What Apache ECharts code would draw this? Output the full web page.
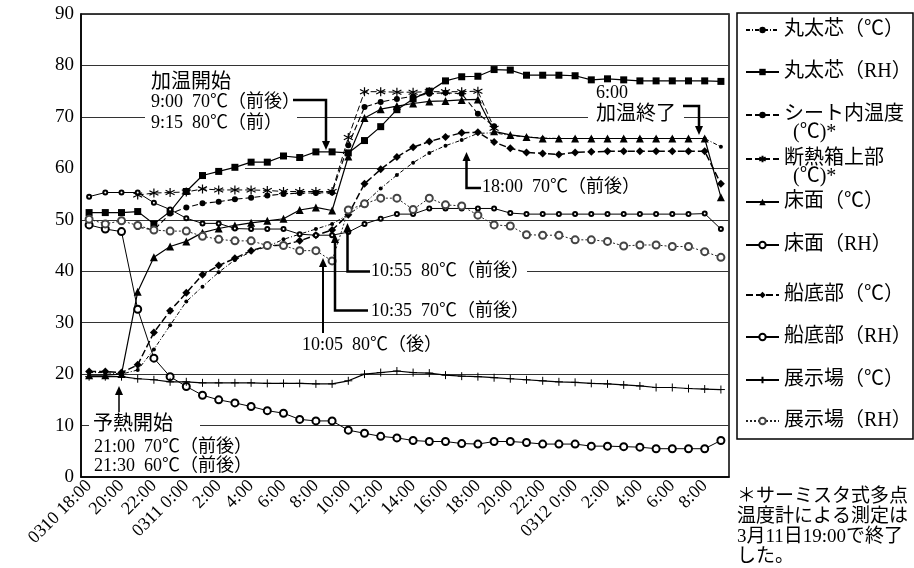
<!DOCTYPE html>
<html><head><meta charset="utf-8">
<script src="https://cdn.jsdelivr.net/npm/echarts@6/dist/echarts.min.js"></script>
<style>html,body{margin:0;padding:0;background:#fff}#c{width:914px;height:568px}</style>
</head><body><div id="c"></div>
<script>
const categories = ['0310 18:00','0310 19:00','0310 20:00','0310 21:00','0310 22:00','0310 23:00',
'0311 0:00','0311 1:00','0311 2:00','0311 3:00','0311 4:00','0311 5:00','0311 6:00','0311 7:00','0311 8:00','0311 9:00',
'0311 10:00','0311 11:00','0311 12:00','0311 13:00','0311 14:00','0311 15:00','0311 16:00','0311 17:00','0311 18:00',
'0311 19:00','0311 20:00','0311 21:00','0311 22:00','0311 23:00',
'0312 0:00','0312 1:00','0312 2:00','0312 3:00','0312 4:00','0312 5:00','0312 6:00','0312 7:00','0312 8:00','0312 9:00'];
const yTicks = [0,10,20,30,40,50,60,70,80,90];

const marutaC  = [20.3,20.3,20.0,20.8,24.8,29.5,34.1,37.0,39.8,42.2,43.8,44.8,46.2,47.2,48.2,49.2,51.0,53.2,56.1,58.7,61.1,63.0,64.4,65.5,66.8,66.9,66.4,66.1,65.9,65.8,65.8,65.8,65.8,65.8,65.8,65.8,65.8,65.8,65.8,64.2];
const marutaRH = [51.4,51.4,51.4,51.6,49.2,51.6,55.5,58.6,59.4,60.2,61.2,61.2,62.4,62.1,63.2,63.2,63.0,65.4,68.1,71.4,73.5,75.0,77.0,77.8,77.9,79.2,79.1,78.1,78.1,78.1,78.0,77.2,77.4,77.2,77.0,77.0,77.0,77.0,77.0,76.9];
const sheetC   = [null,null,null,48.6,48.0,51.2,52.4,53.2,53.5,54.0,54.3,54.7,55.0,55.2,55.2,55.3,64.5,71.9,72.9,73.5,74.0,74.5,74.7,74.5,70.6,68.2,null,null,null,null,null,null,null,null,null,null,null,null,null,null];
const boxTopC  = [null,null,null,54.8,55.2,55.3,55.4,56.0,55.8,55.8,55.8,55.7,55.5,55.5,55.5,55.5,66.0,74.9,74.9,74.8,74.8,74.9,74.9,74.9,75.0,67.8,null,null,null,null,null,null,null,null,null,null,null,null,null,null];
const floorC   = [19.8,19.8,20.0,36.0,42.7,44.8,45.8,47.5,48.3,48.9,49.4,49.8,50.2,51.9,52.4,51.8,62.3,69.8,71.5,72.1,72.6,73.0,73.1,73.3,73.4,67.2,66.5,66.1,65.8,65.8,65.8,65.8,65.8,65.8,65.8,65.8,65.8,65.8,65.8,54.4];
const floorRH  = [49.0,48.2,47.7,32.6,23.1,19.5,17.6,15.9,15.0,14.4,13.7,12.9,12.4,11.2,10.9,10.9,9.1,8.5,7.9,7.6,7.1,6.9,6.9,6.5,6.4,6.9,6.9,6.7,6.4,6.4,6.4,6.0,6.0,5.9,5.8,5.5,5.5,5.5,5.5,7.1];
const hullC    = [20.5,20.5,20.3,21.8,28.1,32.3,35.8,39.3,41.1,42.5,44.0,44.9,45.1,45.9,47.0,48.0,51.0,57.0,59.8,62.2,64.1,65.2,66.1,66.9,67.0,65.1,63.9,63.1,62.9,62.7,63.1,63.2,63.3,63.3,63.3,63.3,63.3,63.3,63.3,57.0];
const hullRH   = [54.5,55.3,55.3,55.3,53.3,52.0,50.3,49.3,49.3,48.3,48.2,48.2,48.2,47.2,47.0,47.0,47.6,49.2,50.2,51.1,51.1,52.2,52.2,52.2,52.2,52.2,51.3,51.1,51.1,51.1,51.1,51.1,51.1,51.1,51.1,51.1,51.1,51.1,51.2,48.2];
const hallC    = [19.5,19.5,19.5,19.1,18.9,18.5,18.5,18.3,18.3,18.3,18.3,18.2,18.2,18.2,18.1,18.1,18.7,20.0,20.3,20.6,20.3,20.2,19.8,19.6,19.5,19.3,19.1,18.9,18.7,18.5,18.4,18.2,18.1,17.9,17.7,17.4,17.4,17.2,17.1,17.0];
const hallRH   = [50.1,49.2,49.8,48.9,48.0,47.8,47.8,46.8,46.2,45.9,45.9,45.0,45.0,44.0,44.0,42.0,51.9,53.1,54.2,54.2,52.0,54.2,52.9,52.7,50.9,49.0,48.8,47.1,47.0,47.0,46.1,46.1,45.8,44.9,45.1,45.1,44.8,44.8,43.8,42.7];

const seriesNames = ['丸太芯（℃）','丸太芯（RH）','シート内温度（℃）*','断熱箱上部（℃）*','床面（℃）','床面（RH）','船底部（℃）','船底部（RH）','展示場（℃）','展示場（RH）'];
const legendLabels = ['丸太芯（℃）','丸太芯（RH）','シート内温度','断熱箱上部','床面（℃）','床面（RH）','船底部（℃）','船底部（RH）','展示場（℃）','展示場（RH）'];
const seriesData = [marutaC, marutaRH, sheetC, boxTopC, floorC, floorRH, hullC, hullRH, hallC, hallRH];

const FONT = '"Liberation Serif","Noto Sans CJK JP",serif';
const K = '#000';
const STAR = 'path://M5,0L5,10M0.67,2.5L9.33,7.5M9.33,2.5L0.67,7.5';
const PLUS = 'path://M5,0L5,10M0,5L10,5';
const styles = [
  {symbol:'circle', symbolSize:4, lineStyle:{color:K,width:1,type:[4,2,1,2]}, itemStyle:{color:K}},
  {symbol:'rect', symbolSize:7, lineStyle:{color:K,width:1.2}, itemStyle:{color:K}},
  {symbol:'circle', symbolSize:6, lineStyle:{color:K,width:1.1,type:[6,3]}, itemStyle:{color:K}},
  {symbol:STAR, symbolSize:9, lineStyle:{color:K,width:1,type:[6,3]}, itemStyle:{color:K,borderColor:K,borderWidth:1.2}},
  {symbol:'triangle', symbolSize:8, lineStyle:{color:K,width:1.2}, itemStyle:{color:K}},
  {symbol:'emptyCircle', symbolSize:7, lineStyle:{color:K,width:1}, itemStyle:{color:K,borderWidth:1}},
  {symbol:'diamond', symbolSize:8, lineStyle:{color:K,width:1.5,type:[7,3]}, itemStyle:{color:K}},
  {symbol:'emptyCircle', symbolSize:4, lineStyle:{color:K,width:1}, itemStyle:{color:K,borderWidth:1}},
  {symbol:PLUS, symbolSize:8, lineStyle:{color:K,width:1.2}, itemStyle:{color:K,borderColor:K,borderWidth:1}},
  {symbol:'emptyCircle', symbolSize:7, lineStyle:{color:'#222',width:1,type:[2,2]}, itemStyle:{color:'#444',borderWidth:2}}
];
const legendY = [30,72,115,159,202,245,295,337,380,421];

const series = seriesNames.map((n,i)=>Object.assign({name:n,type:'line',data:seriesData[i],connectNulls:false,z:3+i,emphasis:{disabled:true}}, styles[i]));
const legend = seriesNames.map((n,i)=>({
  data:[n], orient:'vertical', left:745, top:legendY[i]-10, padding:0, itemGap:0,
  itemWidth:33, itemHeight:8, selectedMode:false,
  formatter: ()=>legendLabels[i],
  textStyle:{fontSize:20,fontFamily:FONT,color:K,lineHeight:20}
}));

function txt(t,x,y,size,extra){return Object.assign({type:'text',z:20,style:{text:t,x:x,y:y,fontSize:size,fontFamily:FONT,fill:K,verticalAlign:'middle',align:'left'}},extra||{});}
function box(x1,y1,x2,y2){return {type:'rect',z:1,shape:{x:x1,y:y1,width:x2-x1,height:y2-y1},style:{fill:'#fff'}};}
function arrow(pts,tip,dir,w){
  const [tx,ty]=tip; const hw=4, hl=9;
  return [
    {type:'polyline',z:20,shape:{points:pts},style:{stroke:K,lineWidth:w,fill:null}},
    {type:'polygon',z:20,shape:{points:[[tx-hw,ty-dir*hl],[tx+hw,ty-dir*hl],[tx,ty]]},style:{fill:K}}
  ];
}
const graphic = [
  box(145,72,297,133), box(588,84,684,124), box(366,263,527,281), box(89,414,200,437), box(82,165,245,172),
  {type:'rect',z:1,shape:{x:737,y:13,width:176,height:426},style:{fill:null,stroke:K,lineWidth:1.5}},
  txt('加温開始',151,83,20),
  txt('9:00  70℃（前後）',151,102,18),
  txt('9:15  80℃（前）',151,123,18),
  txt('6:00',596,93,18),
  txt('加温終了',596,115,20),
  txt('18:00  70℃（前後）',482,187,18),
  txt('10:55  80℃（前後）',371,271,18),
  txt('10:35  70℃（前後）',371,311,18),
  txt('10:05  80℃（後）',302,345,18),
  txt('予熱開始',93,425,20),
  txt('21:00  70℃（前後）',94,447,18),
  txt('21:30  60℃（前後）',94,466,18),
  txt('(℃)*',793,133,20),
  txt('(℃)*',793,177,20),
  {type:'text',z:20,style:{text:'＊サーミスタ式多点\n温度計による測定は\n3月11日19:00で終了\nした。',x:737,y:487,fontSize:19,lineHeight:20,fontFamily:FONT,fill:K,verticalAlign:'top',align:'left'}},
  ...arrow([[293,100],[326,100],[326,142]],[326,150],1,2.5),
  ...arrow([[683,106],[699,106],[699,127]],[699,135],1,2.5),
  ...arrow([[481,188],[466.5,188],[466.5,160]],[466.5,152],-1,2.5),
  ...arrow([[370,271.5],[347.5,271.5],[347.5,231]],[347.5,223],-1,2.5),
  ...arrow([[368,310.5],[335,310.5],[335,242]],[335,234],-1,2.5),
  ...arrow([[323,333],[323,266]],[323,258],-1,2),
  ...arrow([[119,412],[119,394]],[119,386],-1,1.5)
];

const chart = echarts.init(document.getElementById('c'),null,{renderer:'canvas'});
chart.setOption({
  animation:false,
  backgroundColor:'#fff',
  grid:{left:81,right:185,top:14,bottom:91,show:true,borderColor:K,borderWidth:1.5,backgroundColor:'transparent'},
  xAxis:{type:'category',data:categories,boundaryGap:true,
    axisLine:{lineStyle:{color:K,width:1.5}},
    axisTick:{inside:true,interval:0,length:5,lineStyle:{color:K}},
    axisLabel:{interval:1,rotate:45,color:K,fontSize:18,fontFamily:FONT,margin:6,
      formatter:(v,i)=> (i===0 || / 0:00$/.test(v)) ? v : v.split(' ')[1]},
    splitLine:{show:false}},
  yAxis:{type:'value',min:yTicks[0],max:yTicks[yTicks.length-1],interval:10,
    axisLine:{show:true,lineStyle:{color:K,width:1.5}},axisTick:{show:false},
    axisLabel:{color:K,fontSize:19,fontFamily:FONT,margin:7},
    splitLine:{lineStyle:{color:'#333',width:1}}},
  legend: legend,
  series: series,
  graphic: graphic
});
</script></body></html>
